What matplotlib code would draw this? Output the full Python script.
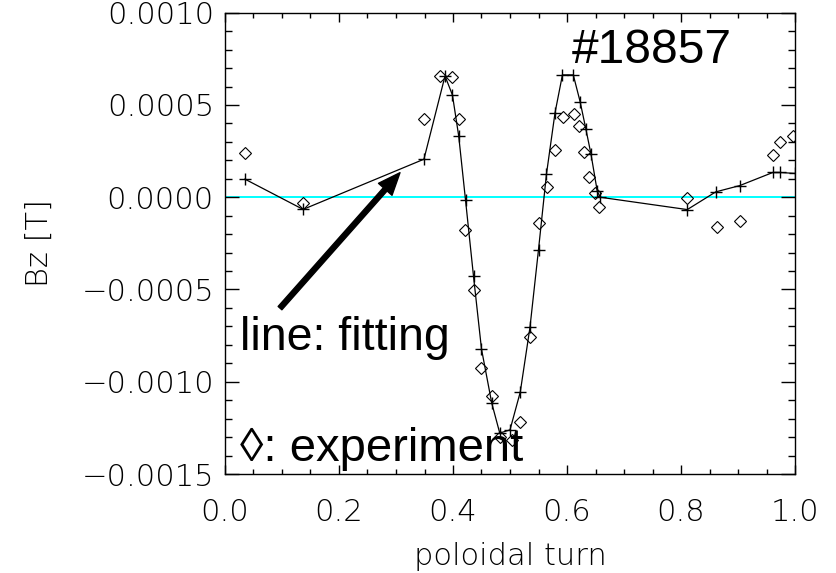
import matplotlib
matplotlib.use("Agg")
import matplotlib.pyplot as plt

# fitting curve (crosses, joined by a line)
fit_x = [0.035, 0.137, 0.349, 0.386, 0.399, 0.410, 0.422, 0.436, 0.450, 0.468,
         0.482, 0.500, 0.518, 0.535, 0.550, 0.564, 0.579, 0.592, 0.611, 0.623,
         0.633, 0.642, 0.653, 0.658, 0.811, 0.861, 0.903, 0.961, 0.974, 1.000]
fit_bz = [0.098, -0.066, 0.206, 0.657, 0.554, 0.332, -0.016, -0.429, -0.823, -1.116,
          -1.278, -1.261, -1.056, -0.706, -0.284, 0.126, 0.458, 0.663, 0.663, 0.518,
          0.371, 0.235, 0.034, 0.000, -0.067, 0.029, 0.063, 0.134, 0.134, 0.129]

# measured probe signals (diamonds)
exp_x = [0.035, 0.137, 0.349, 0.377, 0.398, 0.410, 0.421, 0.437, 0.450, 0.469,
         0.482, 0.504, 0.518, 0.535, 0.550, 0.565, 0.579, 0.593, 0.613, 0.621,
         0.630, 0.639, 0.649, 0.657, 0.810, 0.863, 0.904, 0.961, 0.974, 0.997]
exp_bz = [0.242, -0.033, 0.422, 0.657, 0.653, 0.423, -0.177, -0.501, -0.927, -1.077,
          -1.299, -1.315, -1.216, -0.758, -0.141, 0.057, 0.256, 0.433, 0.452, 0.386,
          0.247, 0.112, 0.022, -0.053, -0.004, -0.159, -0.131, 0.229, 0.297, 0.330]

xticks = [0.0, 0.2, 0.4, 0.6, 0.8, 1.0]
xtick_labels = ["0.0", "0.2", "0.4", "0.6", "0.8", "1.0"]
yticks = [0.0010, 0.0005, 0.0, -0.0005, -0.0010, -0.0015]
ytick_labels = ["0.0010", "0.0005", "0.0000", "\u22120.0005", "\u22120.0010", "\u22120.0015"]

big_font = ["Liberation Sans", "DejaVu Sans"]

fig = plt.figure(figsize=(8.37, 5.73), dpi=100)
ax = fig.add_axes([225 / 837, 99 / 573, 570 / 837, 461.3 / 573])

ax.axhline(0, color="#00ffff", lw=1.4, zorder=1)
ax.plot(fit_x, [v * 1e-3 for v in fit_bz], color="black", lw=0.9,
        marker="+", ms=9, mew=1.0, zorder=3, clip_on=True)
ax.plot(exp_x, [v * 1e-3 for v in exp_bz], ls="none", marker="D", ms=6,
        mfc="none", mec="black", mew=0.8, zorder=4, clip_on=True)

ax.set_xlim(0, 1.0)
ax.set_ylim(-0.0015, 0.0010)
ax.set_xticks(xticks)
ax.set_xticklabels(xtick_labels)
ax.set_yticks(yticks)
ax.set_yticklabels(ytick_labels)
ax.set_xticks([i * 0.05 for i in range(21)], minor=True)
ax.set_yticks([-0.0015 + i * 0.0001 for i in range(26)], minor=True)

ax.tick_params(which="both", direction="in", top=True, right=True, width=1.0)
ax.tick_params(axis="x", which="major", length=6.5, pad=17, labelsize=22)
ax.tick_params(axis="x", which="minor", length=3.6)
ax.tick_params(axis="y", which="major", length=10, pad=8, labelsize=22)
ax.tick_params(axis="y", which="minor", length=5)
for lbl in ax.get_xticklabels() + ax.get_yticklabels():
    lbl.set_fontweight("light")
for sp in ax.spines.values():
    sp.set_linewidth(1.0)

ax.set_xlabel("poloidal turn", fontsize=22, fontweight="light", labelpad=11)
ax.set_ylabel("Bz [T]", fontsize=22, fontweight="light", labelpad=20)

ax.text(0.608, 0.726e-3, "#18857", fontsize=34.5, family=big_font,
        va="baseline", ha="left")
ax.text(0.026, -0.827e-3, "line: fitting", fontsize=33.5, family=big_font,
        va="baseline", ha="left")
ax.text(0.026, -1.429e-3, "\u25ca: experiment", fontsize=34, family=big_font,
        va="baseline", ha="left")

ax.annotate("", xy=(0.307, 0.133e-3), xytext=(0.0965, -0.601e-3),
            arrowprops=dict(facecolor="black", edgecolor="black", width=3.6,
                            headwidth=13, headlength=16, shrink=0))

fig.savefig("out.png", dpi=100)
